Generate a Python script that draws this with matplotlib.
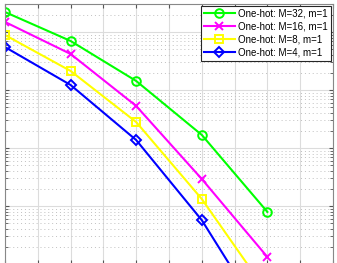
import numpy as np
import matplotlib
matplotlib.use("Agg")
import matplotlib.pyplot as plt
from matplotlib.ticker import LogLocator, MultipleLocator, NullFormatter

# Data (x positions in grid units; y)
x = [0, 2, 4, 6, 8]
ber_m32 = [0.221, 0.070, 0.0143, 1.68e-3, 7.9e-5]
ber_m16 = [0.149, 0.0418, 5.3e-3, 2.92e-4, 1.32e-5]
ber_m8 = [0.0887, 0.0213, 2.8e-3, 1.32e-4, 3.2e-6]
ber_m4 = [0.055, 0.0122, 1.37e-3, 5.7e-5, 8.9e-7]
labels = ["One-hot: M=32, m=1", "One-hot: M=16, m=1",
          "One-hot: M=8, m=1", "One-hot: M=4, m=1"]

plt.rcParams['font.family'] = ['Liberation Sans', 'DejaVu Sans']

W, H = 337, 263
fig = plt.figure(figsize=(W / 100, H / 100), dpi=100)
left, right, top, bottom = 5, 333, 4, 264
ax = fig.add_axes([left / W, (H - bottom) / H, (right - left) / W, (bottom - top) / H])

ax.set_yscale('log')
ax.set_xlim(0, 10)
# decade at y=90px -> 1e-2, 58 px per decade
ylo = 10 ** (-2 - (bottom - 90) / 58)
yhi = 10 ** (-2 - (top - 90) / 58)
ax.set_ylim(ylo, yhi)

series = [ber_m32, ber_m16, ber_m8, ber_m4]
colors = ['#00FF00', '#FF00FF', '#FFFF00', '#0000FF']
markers = ['o', 'x', 's', 'D']
msizes = [6.2, 6, 5.6, 5.2]
for ys, c, m, ms, lab in zip(series, colors, markers, msizes, labels):
    ax.plot(x, ys, color=c, lw=1.5, marker=m, ms=ms, mfc='none', mec=c, mew=1.4,
            label=lab, clip_on=True)

ax.xaxis.set_major_locator(MultipleLocator(1))
ax.yaxis.set_major_locator(LogLocator(base=10, numticks=20))
ax.yaxis.set_minor_locator(LogLocator(base=10, subs=np.arange(2, 10), numticks=20))
ax.yaxis.set_minor_formatter(NullFormatter())
ax.set_xticklabels([])
ax.set_yticklabels([])
ax.grid(True, which='major', color='#dcdcdc', lw=0.8, ls='-')
ax.grid(True, which='minor', axis='y', color='#c0c0c0', lw=0.7, ls=(0, (1, 3)))
ax.tick_params(which='both', direction='in', top=True, right=True, color='#555555')
ax.tick_params(which='major', length=3)
ax.tick_params(which='minor', length=2)
for s in ax.spines.values():
    s.set_color('#888888')
    s.set_linewidth(0.8)

leg = ax.legend(loc='upper right', fontsize=7, frameon=True, fancybox=False,
                edgecolor='#262626', framealpha=1, borderpad=0.3,
                handlelength=3.2, handletextpad=0.35, labelspacing=0.3,
                borderaxespad=0.2)
leg.get_frame().set_linewidth(0.8)

fig.savefig('out.png', dpi=100)
